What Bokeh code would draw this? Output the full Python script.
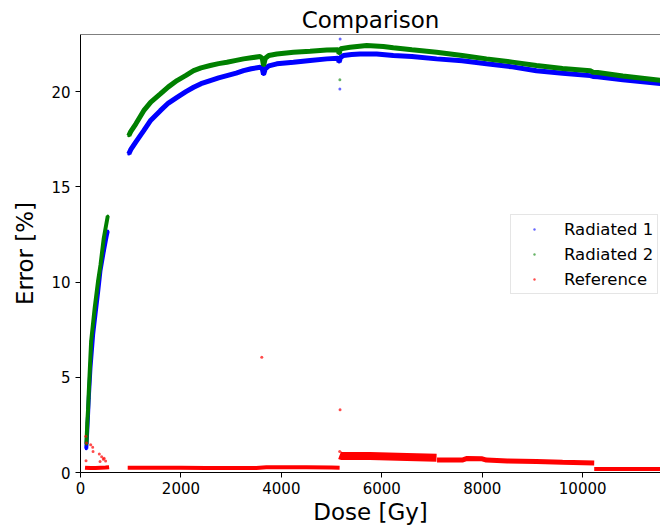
from bokeh.plotting import figure
from bokeh.models import Range1d, FixedTicker, Legend, LegendItem, Span
from bokeh.embed import file_html
from bokeh.resources import INLINE

# ---- axes ----
x_ticks = [0, 2000, 4000, 6000, 8000, 10000]
y_ticks = [0, 5, 10, 15, 20]
x_max = 11550
y_max = 23.0

# ---- Radiated 1 (blue) ----
rad1_early_dose = [115, 135, 150, 165, 199, 252, 298, 352, 398, 463, 520, 543]
rad1_early_err = [1.25, 2.2, 3.0, 3.9, 5.5, 7.26, 8.3, 9.5, 10.6, 11.6, 12.4, 12.68]
rad1_main_dose = [961, 1000, 1100, 1259, 1400, 1590, 1750, 1922, 2100, 2253, 2400,
                  2584, 2750, 2916, 3100, 3247, 3400, 3579, 3620, 3645, 3680, 3750,
                  3910, 4241, 4573, 4905, 5130, 5150, 5180, 5235, 5400, 5567, 5898,
                  6229, 6600, 7090, 7600, 8085, 8600, 9079, 9600, 10150, 10205, 10300,
                  10800, 11550]
rad1_main_err = [16.72, 16.95, 17.35, 17.95, 18.5, 19.0, 19.4, 19.7, 20.0, 20.23, 20.42,
                 20.58, 20.72, 20.84, 20.97, 21.1, 21.2, 21.28, 21.2, 20.9, 21.2, 21.35,
                 21.46, 21.54, 21.63, 21.72, 21.75, 21.55, 21.8, 21.9, 21.95, 21.98, 21.98,
                 21.9, 21.85, 21.72, 21.62, 21.46, 21.3, 21.1, 20.97, 20.84, 20.8, 20.78,
                 20.62, 20.42]
rad1_out_dose = [5165, 5170]
rad1_out_err = [20.14, 22.77]

# ---- Radiated 2 (green) ----
rad2_early_dose = [118, 135, 150, 165, 212, 283, 350, 398, 463, 543]
rad2_early_err = [1.5, 2.6, 3.3, 4.26, 6.9, 8.65, 10.05, 10.9, 12.3, 13.47]
rad2_main_dose = [961, 1000, 1100, 1259, 1400, 1590, 1750, 1922, 2100, 2253, 2400,
                  2584, 2750, 2916, 3100, 3247, 3400, 3579, 3620, 3645, 3680, 3750,
                  3910, 4241, 4573, 4905, 5130, 5150, 5180, 5368, 5700, 6030, 6229,
                  6600, 7090, 7600, 8085, 8600, 9079, 9600, 10150, 10205, 10300, 10800,
                  11550]
rad2_main_err = [17.68, 17.9, 18.3, 19.0, 19.45, 19.88, 20.25, 20.58, 20.85, 21.1, 21.25,
                 21.37, 21.47, 21.54, 21.64, 21.72, 21.78, 21.84, 21.75, 21.37, 21.75, 21.9,
                 21.98, 22.07, 22.12, 22.19, 22.2, 22.0, 22.25, 22.33, 22.42, 22.37, 22.3,
                 22.2, 22.07, 21.9, 21.72, 21.55, 21.37, 21.22, 21.1, 21.02, 21.0, 20.82,
                 20.6]
rad2_out_dose = [5165]
rad2_out_err = [20.63]

# ---- Reference (red) ----
ref_a_dose = [90, 200, 300, 400, 500, 570]
ref_a_err = [0.25, 0.23, 0.24, 0.25, 0.26, 0.28]
ref_b_dose = [940, 1500, 2000, 2500, 3000, 3500, 3700, 4000, 4500, 5000, 5160]
ref_b_err = [0.25, 0.25, 0.25, 0.24, 0.24, 0.24, 0.27, 0.27, 0.27, 0.26, 0.25]
ref_c1_dose = [5160, 5200, 5765, 6500, 7090]
ref_c1_err = [0.9, 0.86, 0.87, 0.82, 0.77]
ref_c2_dose = [7100, 7600, 7700, 8000, 8085, 8500, 9079, 9600, 10230]
ref_c2_err = [0.65, 0.65, 0.74, 0.72, 0.65, 0.6, 0.58, 0.54, 0.5]
ref_d_dose = [10230, 10800, 11550]
ref_d_err = [0.18, 0.18, 0.18]
ref_out_dose = [105, 110, 120, 203, 243, 250, 375, 389, 422, 455, 470, 500, 3610, 5169, 5162]
ref_out_err = [1.9, 0.62, 1.55, 1.46, 1.32, 1.1, 0.97, 0.58, 0.83, 0.70, 0.75, 0.6, 6.05, 3.3, 1.1]

BLUE = "#0000ff"
GREEN = "#008000"
RED = "#ff0000"
FONT = "DejaVu Sans"

p = figure(width=660, height=528, x_range=Range1d(0, x_max), y_range=Range1d(0, y_max),
           output_backend="svg", toolbar_location=None, title="Comparison",
           min_border_left=80, min_border_right=0, min_border_top=34, min_border_bottom=56)

p.title.text_font = FONT
p.title.text_font_size = "23px"
p.title.text_font_style = "normal"
p.title.align = "center"
p.title.standoff = 4
p.title.text_color = "black"

p.outline_line_color = None
p.xgrid.visible = False
p.ygrid.visible = False
p.add_layout(Span(location=y_max, dimension="width", line_color="black", line_width=1))

p.xaxis.ticker = FixedTicker(ticks=x_ticks)
p.yaxis.ticker = FixedTicker(ticks=y_ticks)
p.xaxis.axis_label = "Dose [Gy]"
p.yaxis.axis_label = "Error [%]"
for ax in (p.xaxis, p.yaxis):
    ax.major_label_text_font = FONT
    ax.major_label_text_font_size = "15px"
    ax.major_label_text_color = "black"
    ax.axis_label_text_font = FONT
    ax.axis_label_text_font_size = "23px"
    ax.axis_label_text_font_style = "normal"
    ax.axis_label_text_color = "black"
    ax.axis_line_color = "black"
    ax.axis_line_width = 1
    ax.major_tick_line_color = "black"
    ax.major_tick_out = 5
    ax.major_tick_in = 0
    ax.minor_tick_line_color = None
p.xaxis.major_label_standoff = 4
p.xaxis.axis_label_standoff = 2
p.yaxis.major_label_standoff = 5
p.yaxis.axis_label_standoff = 10

# Radiated 1
p.line(rad1_early_dose, rad1_early_err, line_color=BLUE, line_width=4)
p.line(rad1_main_dose, rad1_main_err, line_color=BLUE, line_width=5)
p.scatter(rad1_early_dose + rad1_main_dose, rad1_early_err + rad1_main_err,
          size=3, color=BLUE, line_color=None)
b_leg = p.scatter(rad1_out_dose, rad1_out_err, size=3, color=BLUE, alpha=0.6, line_color=None)

# Radiated 2
p.line(rad2_early_dose, rad2_early_err, line_color=GREEN, line_width=4)
p.line(rad2_main_dose, rad2_main_err, line_color=GREEN, line_width=5)
p.scatter(rad2_early_dose + rad2_main_dose, rad2_early_err + rad2_main_err,
          size=3, color=GREEN, line_color=None)
g_leg = p.scatter(rad2_out_dose, rad2_out_err, size=3, color=GREEN, alpha=0.6, line_color=None)

# Reference
p.line(ref_a_dose, ref_a_err, line_color=RED, line_width=4)
p.line(ref_b_dose, ref_b_err, line_color=RED, line_width=4)
p.line(ref_c1_dose, ref_c1_err, line_color=RED, line_width=8)
p.line(ref_c2_dose, ref_c2_err, line_color=RED, line_width=5)
p.line(ref_d_dose, ref_d_err, line_color=RED, line_width=4)
r_leg = p.scatter(ref_out_dose, ref_out_err, size=3, color=RED, alpha=0.7, line_color=None)

legend = Legend(items=[LegendItem(label="Radiated 1", renderers=[b_leg]),
                       LegendItem(label="Radiated 2", renderers=[g_leg]),
                       LegendItem(label="Reference", renderers=[r_leg])],
                location=(430, 178))
legend.label_text_font = FONT
legend.label_text_font_size = "16.5px"
legend.label_text_color = "black"
legend.glyph_width = 38
legend.glyph_height = 6
legend.label_height = 20
legend.label_standoff = 11
legend.padding = 4
legend.spacing = 5
legend.margin = 0
legend.border_line_color = "#cccccc"
legend.background_fill_alpha = 0.8
p.add_layout(legend)

open("out.html", "w").write(file_html(p, INLINE))
